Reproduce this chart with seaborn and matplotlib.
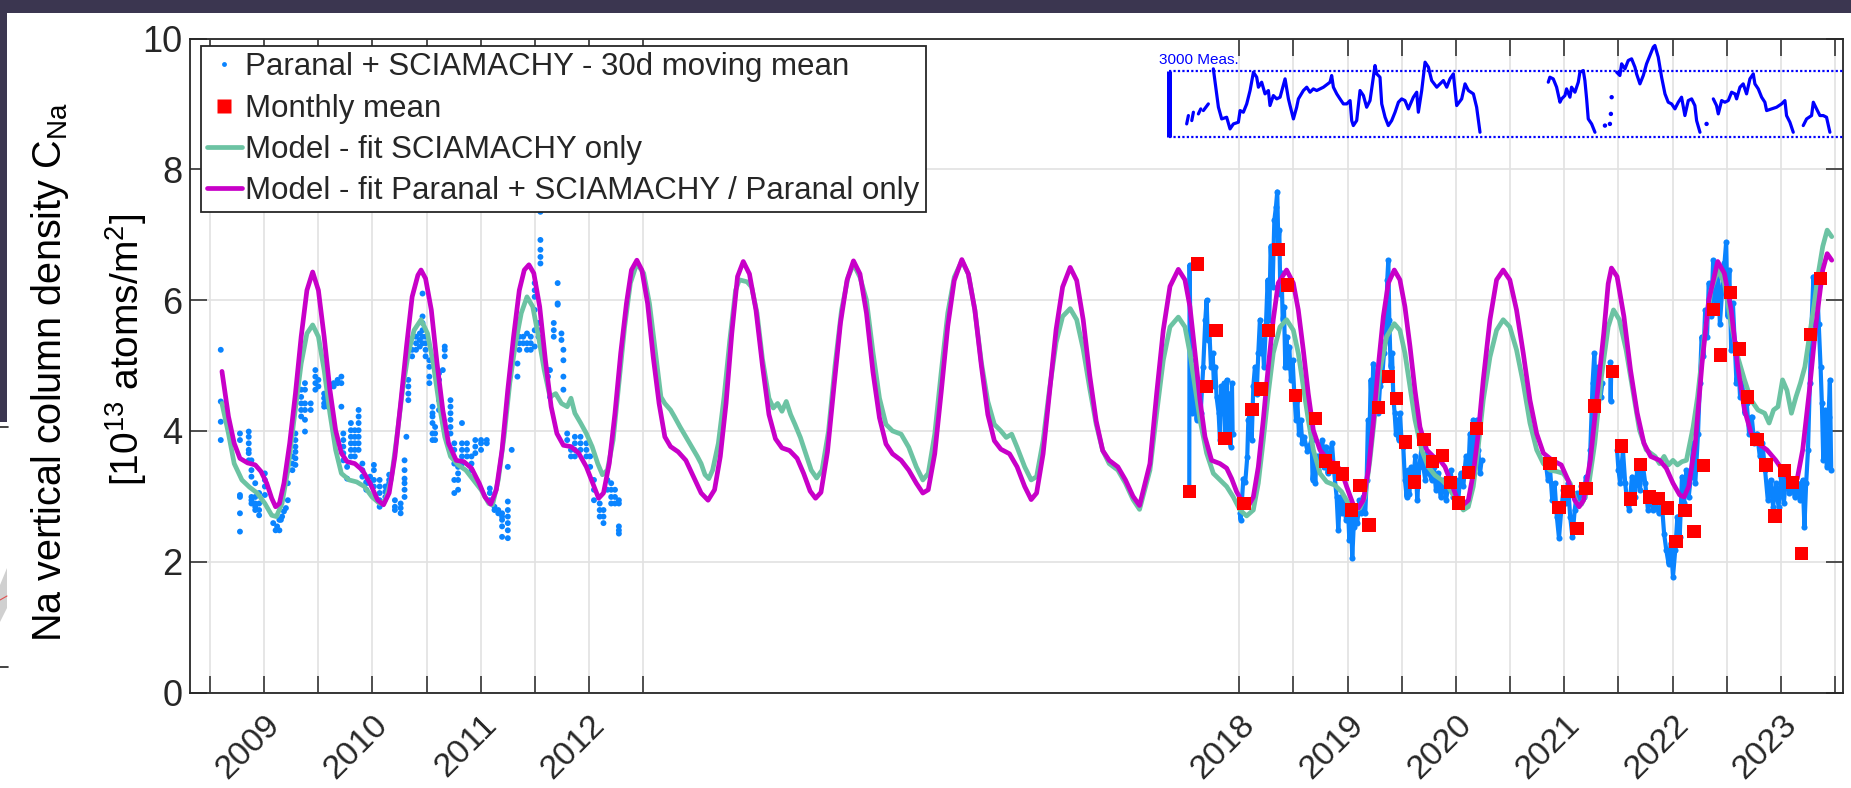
import numpy as np
import pandas as pd
import matplotlib
matplotlib.use("Agg")
import matplotlib.pyplot as plt
import seaborn as sns
from matplotlib.lines import Line2D
from matplotlib.patches import Rectangle, Polygon

nan = np.nan

# ---------------- data ----------------
# Model - fit Paranal + SCIAMACHY / Paranal only  (magenta)
model_paranal_years = [
    2008.612, 2008.672, 2008.725, 2008.778, 2008.849, 2008.919, 2008.972, 2009.025, 2009.071, 2009.107,
    2009.142, 2009.184, 2009.237, 2009.290, 2009.343, 2009.396, 2009.449, 2009.502, 2009.555, 2009.608,
    2009.661, 2009.714, 2009.767, 2009.838, 2009.908, 2009.979, 2010.050, 2010.103, 2010.155, 2010.208,
    2010.261, 2010.315, 2010.367, 2010.420, 2010.449, 2010.491, 2010.544, 2010.597, 2010.650, 2010.703,
    2010.774, 2010.844, 2010.915, 2010.986, 2011.039, 2011.092, 2011.144, 2011.197, 2011.250, 2011.303,
    2011.356, 2011.402, 2011.445, 2011.490, 2011.544, 2011.597, 2011.650, 2011.703, 2011.763, 2011.833,
    2011.904, 2011.975, 2012.045, 2012.088, 2012.133, 2012.186, 2012.239, 2012.292, 2012.345, 2012.391,
    2012.441, 2012.487, 2012.540, 2012.592, 2012.646, 2012.699, 2012.752, 2012.822, 2012.893, 2012.963,
    2013.034, 2013.098, 2013.158, 2013.211, 2013.264, 2013.317, 2013.370, 2013.423,
    2013.48, 2013.54, 2013.60, 2013.66, 2013.72, 2013.78, 2013.85, 2013.92, 2013.98, 2014.04, 2014.09,
    2014.14, 2014.20, 2014.26, 2014.32, 2014.38, 2014.44, 2014.50, 2014.56, 2014.62, 2014.68, 2014.74,
    2014.80, 2014.88, 2014.95, 2015.02, 2015.08, 2015.13, 2015.19, 2015.25, 2015.31, 2015.37, 2015.44,
    2015.50, 2015.56, 2015.62, 2015.68, 2015.74, 2015.80, 2015.88, 2015.95, 2016.02, 2016.08, 2016.13,
    2016.19, 2016.25, 2016.31, 2016.37, 2016.44, 2016.50, 2016.56, 2016.62, 2016.68, 2016.74, 2016.80,
    2016.88, 2016.95, 2017.02, 2017.08,
    2017.176, 2017.238, 2017.299, 2017.361, 2017.438, 2017.499, 2017.545, 2017.592, 2017.638, 2017.684,
    2017.745, 2017.822, 2017.884, 2017.930, 2017.976, 2018.037, 2018.084, 2018.130, 2018.176, 2018.222,
    2018.268, 2018.314, 2018.360, 2018.437, 2018.499, 2018.545, 2018.591, 2018.637, 2018.684, 2018.745,
    2018.807, 2018.883, 2018.945, 2018.991, 2019.053, 2019.099, 2019.145, 2019.191, 2019.237, 2019.283,
    2019.330, 2019.376, 2019.431, 2019.483, 2019.529, 2019.576, 2019.622, 2019.668, 2019.730, 2019.791,
    2019.853, 2019.899, 2019.945, 2020.006, 2020.068, 2020.114, 2020.160, 2020.206, 2020.252, 2020.314,
    2020.375, 2020.436, 2020.497, 2020.559, 2020.621, 2020.683, 2020.745, 2020.807, 2020.889, 2020.972,
    2021.034, 2021.096, 2021.137, 2021.178, 2021.240, 2021.302, 2021.364, 2021.405, 2021.435, 2021.487,
    2021.550, 2021.611, 2021.673, 2021.735, 2021.797, 2021.880, 2021.941, 2022.003, 2022.065, 2022.106,
    2022.148, 2022.209, 2022.271, 2022.333, 2022.416, 2022.477, 2022.540, 2022.601, 2022.663, 2022.725,
    2022.787, 2022.870, 2022.952, 2023.034, 2023.096, 2023.150, 2023.200, 2023.262, 2023.323, 2023.385,
    2023.426, 2023.468]
model_paranal_vals = [
    4.91, 4.22, 3.81, 3.58, 3.51, 3.48, 3.38, 3.20, 2.97, 2.84,
    2.89, 3.20, 3.81, 4.57, 5.44, 6.15, 6.43, 6.15, 5.44, 4.63,
    4.01, 3.66, 3.53, 3.50, 3.40, 3.20, 2.94, 2.87, 3.05, 3.61,
    4.42, 5.29, 6.05, 6.38, 6.46, 6.33, 5.85, 5.03, 4.32, 3.81,
    3.55, 3.53, 3.43, 3.20, 2.99, 2.88, 3.10, 3.71, 4.63, 5.44,
    6.15, 6.46, 6.54, 6.41, 5.90, 5.08, 4.37, 3.96, 3.78, 3.76,
    3.66, 3.45, 3.15, 2.97, 3.05, 3.50, 4.27, 5.19, 5.95, 6.46,
    6.61, 6.46, 5.95, 5.13, 4.42, 3.91, 3.76, 3.68, 3.55, 3.30,
    3.05, 2.94, 3.10, 3.61, 4.42, 5.49, 6.36, 6.59,
    6.40, 5.85, 5.00, 4.25, 3.88, 3.74, 3.70, 3.58, 3.35, 3.08, 2.97,
    3.06, 3.68, 4.68, 5.65, 6.30, 6.60, 6.40, 5.80, 4.90, 4.20, 3.80,
    3.65, 3.55, 3.40, 3.20, 3.05, 3.10, 3.65, 4.60, 5.60, 6.30, 6.62,
    6.40, 5.85, 5.00, 4.25, 3.85, 3.72, 3.65, 3.45, 3.15, 2.95, 3.05,
    3.65, 4.60, 5.55, 6.20, 6.50, 6.30, 5.70, 4.85, 4.15, 3.70, 3.55,
    3.45, 3.25, 3.00, 2.86,
    3.50, 4.57, 5.54, 6.21, 6.47, 6.31, 5.90, 5.19, 4.47, 3.91,
    3.55, 3.50, 3.43, 3.27, 3.07, 2.89, 2.85, 2.99, 3.45, 4.17,
    4.98, 5.70, 6.26, 6.46, 6.26, 5.85, 5.24, 4.57, 4.01, 3.71,
    3.58, 3.50, 3.38, 3.15, 2.87, 2.82, 2.94, 3.40, 4.12, 4.98,
    5.75, 6.26, 6.46, 6.31, 5.90, 5.29, 4.62, 4.06, 3.71, 3.61,
    3.55, 3.45, 3.25, 2.99, 2.87, 2.94, 3.35, 3.96, 4.78, 5.70,
    6.31, 6.46, 6.31, 5.85, 5.19, 4.47, 3.96, 3.66, 3.55, 3.48,
    3.25, 2.94, 2.84, 2.94, 3.55, 4.52, 5.49, 6.25, 6.49, 6.36,
    5.75, 4.93, 4.27, 3.81, 3.61, 3.55, 3.43, 3.20, 3.02, 2.99,
    3.15, 3.81, 5.03, 6.00, 6.59, 6.41, 5.85, 4.98, 4.32, 3.96,
    3.81, 3.71, 3.55, 3.35, 3.20, 3.27, 3.71, 4.62, 5.64, 6.46,
    6.71, 6.61]

# Model - fit SCIAMACHY only  (green)
model_scia_years = [
    2008.612, 2008.672, 2008.725, 2008.796, 2008.866, 2008.937, 2009.008, 2009.071, 2009.114, 2009.166,
    2009.220, 2009.273, 2009.343, 2009.396, 2009.449, 2009.502, 2009.555, 2009.608, 2009.661, 2009.714,
    2009.785, 2009.855, 2009.926, 2009.997, 2010.067, 2010.120, 2010.173, 2010.226, 2010.279, 2010.332,
    2010.385, 2010.449, 2010.509, 2010.562, 2010.615, 2010.668, 2010.721, 2010.791, 2010.862, 2010.932,
    2011.003, 2011.074, 2011.109, 2011.162, 2011.215, 2011.268, 2011.321, 2011.374, 2011.427, 2011.480,
    2011.533, 2011.586, 2011.639, 2011.692, 2011.745, 2011.798, 2011.833, 2011.869, 2011.922, 2011.975,
    2012.028, 2012.080, 2012.123, 2012.169, 2012.222, 2012.275, 2012.328, 2012.381, 2012.441, 2012.504,
    2012.557, 2012.610, 2012.663, 2012.699, 2012.752, 2012.787, 2012.840, 2012.893, 2012.946, 2012.999,
    2013.034, 2013.070, 2013.105, 2013.140, 2013.193, 2013.246, 2013.299, 2013.352, 2013.387, 2013.458,
    2013.50, 2013.55, 2013.60, 2013.66, 2013.70, 2013.74, 2013.78, 2013.82, 2013.86, 2013.90, 2013.95,
    2014.00, 2014.05, 2014.10, 2014.15, 2014.21, 2014.27, 2014.33, 2014.39, 2014.44, 2014.50, 2014.56,
    2014.62, 2014.68, 2014.74, 2014.80, 2014.88, 2014.95, 2015.02, 2015.08, 2015.13, 2015.19, 2015.25,
    2015.31, 2015.37, 2015.44, 2015.50, 2015.56, 2015.62, 2015.68, 2015.74, 2015.80, 2015.85, 2015.90,
    2015.95, 2016.02, 2016.08, 2016.13, 2016.19, 2016.25, 2016.31, 2016.37, 2016.44, 2016.50, 2016.56,
    2016.62, 2016.68, 2016.74, 2016.80, 2016.88, 2016.95, 2017.02, 2017.08,
    2017.176, 2017.238, 2017.299, 2017.361, 2017.438, 2017.499, 2017.545, 2017.592, 2017.638, 2017.699,
    2017.761, 2017.822, 2017.884, 2017.945, 2018.007, 2018.068, 2018.130, 2018.176, 2018.222, 2018.268,
    2018.314, 2018.376, 2018.437, 2018.499, 2018.545, 2018.591, 2018.637, 2018.684, 2018.745, 2018.807,
    2018.883, 2018.945, 2019.007, 2019.068, 2019.114, 2019.160, 2019.206, 2019.253, 2019.299, 2019.360,
    2019.431, 2019.483, 2019.529, 2019.576, 2019.622, 2019.683, 2019.745, 2019.807, 2019.868, 2019.929,
    2019.991, 2020.068, 2020.114, 2020.160, 2020.206, 2020.252, 2020.314, 2020.375, 2020.436, 2020.497,
    2020.559, 2020.621, 2020.683, 2020.745, 2020.807, 2020.869, 2020.931, 2020.990, 2021.054, 2021.116,
    2021.160, 2021.219, 2021.281, 2021.343, 2021.405, 2021.454, 2021.508, 2021.570, 2021.632, 2021.694,
    2021.756, 2021.838, 2021.879, 2021.921, 2021.962, 2022.003, 2022.044, 2022.086, 2022.127, 2022.189,
    2022.230, 2022.292, 2022.354, 2022.416, 2022.477, 2022.540, 2022.601, 2022.663, 2022.725, 2022.787,
    2022.849, 2022.890, 2022.931, 2022.972, 2023.014, 2023.055, 2023.096, 2023.138, 2023.179, 2023.220,
    2023.262, 2023.303, 2023.344, 2023.385, 2023.426, 2023.468]
model_scia_vals = [
    4.42, 3.96, 3.50, 3.25, 3.14, 3.05, 2.89, 2.71, 2.69, 2.89,
    3.40, 4.12, 5.03, 5.49, 5.62, 5.44, 4.93, 4.27, 3.71, 3.35,
    3.25, 3.22, 3.15, 2.99, 2.89, 2.94, 3.25, 3.91, 4.63, 5.19,
    5.54, 5.70, 5.49, 5.03, 4.42, 3.91, 3.61, 3.48, 3.40, 3.25,
    3.10, 2.89, 2.87, 3.25, 3.91, 4.73, 5.34, 5.80, 6.05, 5.90,
    5.44, 4.93, 4.52, 4.57, 4.42, 4.37, 4.50, 4.27, 4.12, 3.96,
    3.76, 3.50, 3.33, 3.40, 3.86, 4.73, 5.59, 6.26, 6.56, 6.41,
    5.95, 5.24, 4.52, 4.42, 4.32, 4.22, 4.06, 3.91, 3.76, 3.61,
    3.50, 3.33, 3.27, 3.40, 3.81, 4.52, 5.39, 6.15, 6.31, 6.28,
    6.20, 5.80, 5.10, 4.50, 4.35, 4.42, 4.30, 4.45, 4.25, 4.10, 3.90,
    3.65, 3.40, 3.28, 3.40, 4.00, 5.00, 5.85, 6.35, 6.55, 6.35, 6.00,
    5.20, 4.50, 4.10, 4.00, 3.95, 3.75, 3.45, 3.25, 3.35, 3.95, 4.90,
    5.80, 6.35, 6.60, 6.40, 5.85, 5.05, 4.45, 4.10, 4.00, 3.90, 3.95,
    3.75, 3.45, 3.25, 3.30, 3.85, 4.65, 5.35, 5.75, 5.87, 5.70, 5.25,
    4.65, 4.10, 3.70, 3.50, 3.40, 3.20, 2.95, 2.80,
    3.40, 4.27, 5.08, 5.59, 5.74, 5.59, 5.19, 4.68, 4.17, 3.66,
    3.35, 3.25, 3.15, 2.99, 2.79, 2.70, 2.79, 3.20, 3.86, 4.57,
    5.19, 5.59, 5.70, 5.54, 5.19, 4.68, 4.17, 3.71, 3.35, 3.22,
    3.17, 3.07, 2.89, 2.79, 2.82, 2.99, 3.55, 4.27, 4.93, 5.44,
    5.64, 5.54, 5.19, 4.68, 4.17, 3.71, 3.45, 3.32, 3.25, 3.15,
    2.97, 2.79, 2.84, 3.15, 3.76, 4.47, 5.13, 5.54, 5.70, 5.59,
    5.24, 4.73, 4.12, 3.71, 3.50, 3.40, 3.38, 3.35, 3.20, 2.89,
    2.88, 3.10, 3.81, 4.83, 5.59, 5.85, 5.70, 5.24, 4.62, 4.01,
    3.71, 3.61, 3.50, 3.61, 3.48, 3.55, 3.48, 3.53, 3.55, 4.06,
    4.52, 5.44, 6.15, 6.46, 6.26, 5.64, 5.13, 4.78, 4.47, 4.32,
    4.27, 4.12, 4.32, 4.37, 4.78, 4.62, 4.27, 4.52, 4.73, 4.98,
    5.44, 5.90, 6.41, 6.82, 7.07, 6.97]

# Paranal + SCIAMACHY 30d moving mean, 2008-2012 (scattered points, one year -> several values)
dots_2008_2012 = [
    (2008.601, [5.24, 4.45, 4.14, 3.86]), (2008.778, [3.96, 3.86, 3.02, 2.99, 2.74, 2.46]),
    (2008.859, [3.99, 3.91, 3.81, 3.71, 3.66, 3.55]), (2008.884, [3.55, 3.40, 3.30, 2.99, 2.94, 2.89]),
    (2008.919, [3.20, 2.99, 2.89, 2.84, 2.79]), (2008.955, [3.05, 2.89, 2.79, 2.71]),
    (2009.008, [3.35, 3.25, 3.15, 3.02]), (2009.085, [2.59]), (2009.107, [2.48]), (2009.121, [2.54]),
    (2009.142, [2.48, 2.64]), (2009.156, [2.64]), (2009.167, [2.69]), (2009.184, [2.77]), (2009.202, [2.82]),
    (2009.220, [3.40, 3.20, 2.94]), (2009.262, [3.61, 3.50, 3.40]),
    (2009.290, [3.96, 3.86, 3.76, 3.68, 3.58, 3.48]), (2009.343, [4.63, 4.52, 4.42, 4.32, 4.22]),
    (2009.378, [4.73, 4.63, 4.42, 4.32, 4.17, 3.99]), (2009.431, [4.42, 4.32]),
    (2009.474, [4.93, 4.83, 4.73, 4.63]), (2009.502, [4.78, 4.68]), (2009.555, [4.57, 4.50, 4.42, 4.37]),
    (2009.590, [4.63, 4.47, 4.37]), (2009.643, [4.73, 4.68]), (2009.679, [4.78, 4.73]),
    (2009.714, [4.83, 4.73, 4.37]), (2009.732, [3.96, 3.86, 3.76, 3.66, 3.55]), (2009.767, [3.45, 3.27]),
    (2009.802, [4.12, 4.01, 3.91, 3.81, 3.71, 3.61]), (2009.838, [4.01, 3.91, 3.81, 3.71, 3.61]),
    (2009.873, [4.32, 4.22, 4.12, 4.01, 3.91, 3.81, 3.71]), (2009.908, [3.50, 3.40, 3.30]),
    (2009.944, [3.22, 3.20, 3.10]), (2009.979, [3.30, 3.20]), (2010.014, [3.48, 3.40, 3.25, 3.15, 2.99]),
    (2010.067, [3.25, 3.15, 3.05, 2.94, 2.84]), (2010.120, [3.15, 3.07, 2.99]), (2010.155, [3.33, 3.25, 3.20]),
    (2010.208, [2.94, 2.84, 2.79]), (2010.261, [2.89, 2.82, 2.74]),
    (2010.297, [3.55, 3.40, 3.27, 3.20, 3.10, 2.99]), (2010.314, [3.91]),
    (2010.332, [4.78, 4.68, 4.57, 4.47]), (2010.367, [5.24, 5.14]), (2010.403, [5.44, 5.34, 5.24]),
    (2010.438, [5.49, 5.39, 5.29]), (2010.463, [6.10, 5.75, 5.65, 5.54, 5.44, 5.34]),
    (2010.491, [5.44, 5.34, 5.24, 5.14]), (2010.526, [5.08, 4.98, 4.83, 4.73]),
    (2010.555, [4.37, 4.27, 4.22, 4.12, 3.96, 3.86]), (2010.579, [4.06, 3.96, 3.86]),
    (2010.615, [4.88, 4.78, 4.47, 4.32]), (2010.650, [4.93]), (2010.668, [5.29, 5.24, 5.14]),
    (2010.721, [4.47, 4.37, 4.27, 4.17, 4.06, 3.96]), (2010.756, [3.81, 3.71, 3.50, 3.25, 3.05]),
    (2010.791, [3.45, 3.35, 3.25, 3.10]), (2010.827, [4.12, 3.81, 3.71, 3.61, 3.50]),
    (2010.873, [3.81, 3.71, 3.61]), (2010.915, [3.61, 3.50, 3.40]), (2010.950, [3.86, 3.76, 3.66]),
    (2011.003, [3.86, 3.81, 3.71]), (2011.056, [3.81, 3.86]), (2011.084, [3.12, 3.05, 2.94]),
    (2011.127, [2.84, 2.79]), (2011.162, [2.79, 2.74]), (2011.197, [2.74, 2.69, 2.64, 2.54, 2.38]),
    (2011.250, [3.45, 2.92, 2.79, 2.69, 2.59, 2.48, 2.36]), (2011.286, [3.71]), (2011.339, [5.03, 4.83]),
    (2011.356, [5.44, 5.34, 5.24]), (2011.392, [5.44, 5.34]), (2011.427, [5.49, 5.34, 5.24]),
    (2011.462, [5.44, 5.34, 5.24]), (2011.498, [6.26, 6.15, 6.05, 5.85, 5.54, 5.29]),
    (2011.533, [5.65, 5.54, 5.44]), (2011.551, [7.35, 6.92, 6.77, 6.66, 6.56]),
    (2011.621, [4.93, 4.83]), (2011.639, [4.93, 4.52]), (2011.674, [5.65, 5.54, 5.44]),
    (2011.710, [6.26, 5.95, 5.93]), (2011.745, [5.49, 5.39]), (2011.763, [5.24, 5.08, 4.83, 4.63]),
    (2011.798, [3.96, 3.86]), (2011.833, [3.71, 3.61]), (2011.869, [3.91, 3.81, 3.71, 3.61]),
    (2011.921, [3.91, 3.81, 3.71]), (2011.975, [3.81, 3.71, 3.61]), (2012.010, [3.61, 3.45]),
    (2012.045, [3.25, 3.10, 2.94]), (2012.098, [2.89, 2.79, 2.69]), (2012.133, [2.79, 2.69, 2.59]),
    (2012.169, [3.25, 3.10]), (2012.204, [3.20, 3.10, 2.99, 2.89]), (2012.239, [3.10, 2.99, 2.89]),
    (2012.275, [2.94, 2.89, 2.54, 2.48, 2.43])]

# Paranal + SCIAMACHY 30d moving mean, 2017-2023 (dense; nan = data gap)
blue_2017_2023_years = [
    2017.539, 2017.542, 2017.552, 2017.564, 2017.576, 2017.592, 2017.607, 2017.622, 2017.644, 2017.668,
    2017.687, 2017.699, 2017.711, 2017.724, 2017.739, 2017.755, 2017.767, 2017.779, 2017.791, 2017.810,
    2017.822, 2017.835, 2017.847, 2017.859, 2017.871, 2017.884, 2017.896, 2017.908, 2017.921, 2017.933,
    2017.939, nan,
    2018.007, 2018.013, 2018.025, 2018.038, 2018.056, 2018.074, 2018.084, 2018.099, 2018.115, 2018.130,
    2018.145, 2018.161, 2018.176, 2018.191, 2018.204, 2018.216, 2018.228, 2018.247, 2018.262, 2018.277,
    2018.290, 2018.308, 2018.324, 2018.339, 2018.351, 2018.361, 2018.370, 2018.379, 2018.391, 2018.401,
    2018.413, 2018.425, 2018.437, 2018.450, 2018.462, 2018.477, 2018.493, 2018.508, 2018.524, 2018.536,
    2018.551, 2018.567, 2018.582, 2018.597, 2018.630, 2018.668, 2018.677, 2018.690, 2018.702, 2018.714,
    2018.730, 2018.745, 2018.767, 2018.782, 2018.800, 2018.816, 2018.837, 2018.856, 2018.874, 2018.899,
    2018.914, 2018.930, 2018.945, 2018.966, 2018.985, 2019.003, 2019.016, 2019.031, 2019.043, 2019.056,
    2019.071, 2019.090, 2019.108, 2019.126, 2019.145, 2019.163, 2019.176, 2019.188, 2019.200, 2019.213,
    2019.225, 2019.237, 2019.253, 2019.268, 2019.283, 2019.299, 2019.317, 2019.336, 2019.354, 2019.366,
    2019.376, 2019.385, 2019.397, 2019.410, 2019.422, 2019.434, 2019.446, 2019.459, 2019.471, 2019.483,
    2019.496, 2019.514, 2019.529, 2019.545, 2019.557, 2019.569, 2019.588, 2019.606, 2019.625, 2019.643,
    2019.662, 2019.683, 2019.699, 2019.717, 2019.736, 2019.754, 2019.775, 2019.797, 2019.815, 2019.837,
    2019.858, 2019.883, 2019.908, 2019.929, 2019.951, 2019.975, 2020.000, 2020.021, 2020.043, 2020.068,
    2020.092, 2020.114, 2020.129, 2020.145, 2020.160, 2020.175, 2020.191, 2020.206, 2020.222, 2020.237,
    nan,
    2020.827, 2020.848, 2020.869, 2020.889, 2020.910, 2020.931, 2020.951, 2020.972, 2020.992, 2021.013,
    2021.034, 2021.054, 2021.075, 2021.096, 2021.116, 2021.137, 2021.158, 2021.178, 2021.199, 2021.219,
    2021.240, 2021.261, 2021.277, 2021.294, 2021.314, 2021.335, 2021.351, nan,
    2021.424, 2021.428, 2021.432, nan,
    2021.487, 2021.500, 2021.516, 2021.541, 2021.562, 2021.582, 2021.599, 2021.624, 2021.648, 2021.673,
    2021.698, 2021.723, 2021.747, 2021.772, 2021.797, 2021.822, 2021.846, 2021.871, 2021.900, 2021.921,
    2021.941, 2021.962, 2021.983, 2022.003, 2022.024, 2022.044, 2022.065, 2022.086, 2022.106, 2022.127,
    2022.148, 2022.168, 2022.189, 2022.209, 2022.234, 2022.251, 2022.267, 2022.284, 2022.300, 2022.317,
    2022.333, 2022.354, 2022.374, 2022.395, 2022.416, 2022.436, 2022.457, 2022.478, 2022.494, 2022.507,
    2022.523, 2022.540, 2022.556, 2022.573, 2022.589, 2022.606, 2022.622, 2022.643, 2022.663, 2022.684,
    2022.705, 2022.729, 2022.754, 2022.779, 2022.804, 2022.828, 2022.853, 2022.878, 2022.903, 2022.927,
    2022.952, 2022.977, 2023.002, 2023.026, 2023.051, 2023.076, 2023.101, 2023.125, 2023.150, 2023.175,
    2023.200, 2023.216, 2023.232, 2023.249, 2023.266, 2023.282, 2023.299, 2023.315, 2023.332, 2023.348,
    2023.365, 2023.377, 2023.390, 2023.406, 2023.423, 2023.439, 2023.451, 2023.463]
blue_2017_2023_vals = [
    3.10, 6.54, 5.08, 4.27, 4.98, 4.68, 4.17, 4.52, 4.27, 4.98,
    5.70, 6.00, 5.39, 5.54, 4.98, 5.19, 4.68, 4.98, 4.52, 4.27,
    3.86, 4.68, 4.27, 4.73, 3.96, 4.78, 3.86, 4.57, 3.76, 4.73,
    3.96, nan,
    2.74, 2.64, 2.94, 3.27, 3.22, 3.60, 4.17, 4.27, 3.86, 4.68,
    4.98, 4.57, 5.19, 5.70, 5.19, 5.39, 4.98, 5.64, 6.31, 5.70,
    6.82, 6.20, 7.22, 7.43, 7.66, 6.82, 7.07, 6.10, 6.41, 5.70,
    5.90, 4.98, 5.44, 4.98, 5.29, 4.78, 5.08, 4.57, 4.17, 4.47,
    3.96, 4.17, 3.81, 3.91, 3.70, 3.86, 3.25, 3.50, 3.20, 3.61,
    3.40, 3.55, 3.86, 3.45, 3.76, 3.35, 3.66, 3.81, 3.40, 2.99,
    2.48, 2.99, 2.74, 2.94, 2.64, 2.84, 2.33, 2.74, 2.05, 2.53,
    2.74, 2.59, 2.94, 2.74, 2.99, 2.74, 3.25, 4.17, 3.76, 4.78,
    4.27, 5.03, 4.57, 4.78, 4.27, 4.68, 4.78, 5.19, 5.39, 6.31,
    6.61, 5.70, 4.98, 5.19, 4.52, 4.27, 3.96, 4.17, 3.86, 4.27,
    3.91, 3.76, 3.25, 2.99, 3.40, 3.04, 3.45, 3.25, 3.61, 2.94,
    3.45, 3.76, 3.45, 3.25, 3.66, 3.35, 3.25, 3.45, 3.10, 3.35,
    2.99, 3.25, 2.94, 3.15, 3.40, 2.99, 3.25, 2.94, 3.35, 3.15,
    3.61, 3.35, 3.96, 3.45, 4.17, 3.76, 4.17, 3.71, 3.35, 3.55,
    nan,
    3.55, 3.25, 3.40, 2.94, 3.20, 2.69, 2.36, 2.79, 3.10, 2.89,
    3.20, 2.69, 2.38, 2.79, 3.05, 2.89, 3.15, 2.99, 3.30, 3.15,
    3.71, 4.73, 5.19, 4.42, 4.98, 4.52, 4.73, nan,
    5.05, 4.45, 4.85, nan,
    3.71, 3.40, 3.20, 3.71, 3.20, 2.89, 2.79, 3.30, 2.99, 3.40,
    3.10, 3.50, 3.20, 2.79, 2.99, 2.79, 2.89, 2.74, 2.89, 2.43,
    2.18, 1.97, 2.28, 1.77, 2.18, 2.69, 2.38, 3.30, 2.89, 3.40,
    2.99, 3.30, 3.81, 3.20, 3.96, 4.73, 5.44, 5.14, 5.85, 5.44,
    6.26, 5.75, 6.61, 6.00, 6.46, 5.64, 6.15, 6.56, 6.89, 5.75,
    6.46, 5.24, 5.95, 5.34, 4.73, 5.03, 4.52, 4.73, 4.27, 4.42,
    3.96, 4.22, 3.81, 3.96, 3.61, 3.81, 3.40, 2.94, 3.25, 2.84,
    3.20, 2.84, 3.30, 2.89, 3.40, 3.05, 3.25, 2.99, 3.20, 2.94,
    3.25, 2.53, 3.20, 3.71, 4.73, 5.64, 6.36, 5.95, 6.26, 5.64,
    4.98, 4.42, 3.55, 4.32, 3.45, 4.22, 4.78, 3.40]

# Monthly mean (red squares)
monthly_years = [
    2017.540, 2017.618, 2017.700, 2017.787, 2017.870, 2018.043, 2018.117, 2018.200, 2018.270, 2018.365,
    2018.443, 2018.521, 2018.703, 2018.794, 2018.868, 2018.950, 2019.033, 2019.115, 2019.198, 2019.288,
    2019.375, 2019.450, 2019.532, 2019.619, 2019.705, 2019.784, 2019.874, 2019.949, 2020.023, 2020.114,
    2020.188, 2020.869, 2020.951, 2021.034, 2021.116, 2021.199, 2021.281, 2021.446, 2021.529, 2021.612,
    2021.702, 2021.785, 2021.867, 2021.950, 2022.032, 2022.115, 2022.197, 2022.284, 2022.374, 2022.444,
    2022.531, 2022.614, 2022.692, 2022.779, 2022.861, 2022.944, 2023.034, 2023.109, 2023.191, 2023.274,
    2023.365]
monthly_vals = [
    3.07, 6.55, 4.68, 5.54, 3.88, 2.89, 4.33, 4.64, 5.53, 6.77,
    6.23, 4.54, 4.19, 3.54, 3.44, 3.34, 2.79, 3.17, 2.56, 4.36,
    4.83, 4.50, 3.83, 3.22, 3.87, 3.53, 3.62, 3.21, 2.90, 3.36,
    4.04, 3.50, 2.83, 3.07, 2.51, 3.12, 4.38, 4.91, 3.77, 2.96,
    3.49, 2.99, 2.97, 2.82, 2.31, 2.78, 2.46, 3.47, 5.86, 5.16,
    6.12, 5.25, 4.52, 3.87, 3.48, 2.70, 3.39, 3.21, 2.13, 5.47,
    6.33]

# Inset: number of measurements (nan = gap); scale bar = 3000 measurements
inset_years = [
    2017.515, 2017.531, nan, 2017.562, 2017.577, nan, 2017.623, 2017.645, nan, 2017.669, 2017.715, nan,
    2017.761, 2017.808, 2017.838, 2017.884, 2017.915, 2017.946, 2017.992, 2018.008, 2018.038, 2018.069,
    2018.100, 2018.131, 2018.161, 2018.177, 2018.207, 2018.238, 2018.269, 2018.284, 2018.315, 2018.346,
    2018.377, 2018.423, 2018.454, 2018.469, 2018.500, 2018.530, 2018.546, 2018.592, 2018.623, 2018.653,
    2018.684, 2018.715, 2018.777, 2018.838, 2018.853, 2018.869, 2018.900, 2018.930, 2018.961, 2018.992,
    2019.023, 2019.038, 2019.053, 2019.084, 2019.115, 2019.146, 2019.176, 2019.207, 2019.253, 2019.269,
    2019.299, 2019.315, 2019.346, 2019.376, 2019.407, 2019.438, 2019.469, 2019.499, 2019.530, 2019.561,
    2019.607, 2019.638, 2019.653, 2019.684, 2019.715, 2019.746, 2019.776, 2019.823, 2019.853, 2019.884,
    2019.915, 2019.945, 2019.976, 2020.007, 2020.053, 2020.084, 2020.115, 2020.161, 2020.191, 2020.222,
    nan,
    2020.852, 2020.867, 2020.898, 2020.929, 2020.960, 2020.975, 2021.006, 2021.021, 2021.052, 2021.067,
    2021.098, 2021.129, 2021.144, 2021.175, 2021.190, 2021.206, 2021.221, 2021.252, 2021.283, nan,
    2021.483, 2021.513, 2021.529, 2021.560, 2021.590, 2021.621, 2021.652, 2021.667, 2021.698, 2021.729,
    2021.759, 2021.790, 2021.821, 2021.836, 2021.867, 2021.898, 2021.929, 2021.959, 2021.990, 2022.021,
    2022.052, 2022.082, 2022.113, 2022.144, 2022.175, 2022.205, 2022.221, 2022.252, nan,
    2022.375, 2022.405, 2022.421, 2022.452, 2022.482, 2022.513, 2022.544, 2022.575, 2022.590, 2022.621,
    2022.651, 2022.682, 2022.713, 2022.744, 2022.759, 2022.790, 2022.821, 2022.851, 2022.867, 2022.913,
    2022.959, 2023.005, 2023.036, 2023.051, 2023.082, 2023.113, nan,
    2023.205, 2023.236, 2023.282, 2023.298, 2023.328, 2023.359, 2023.390, 2023.420, 2023.451]
inset_meas = [
    582, 965, nan, 735, 1118, nan, 1041, 1271, nan, 1194, 1500, nan,
    3108, 1347, 811, 888, 352, 582, 658, 1194, 1118, 1500,
    2113, 2955, 2725, 2266, 2496, 1960, 2113, 1424, 1883, 1730,
    1807, 2649, 1730, 1424, 811, 1347, 1730, 2113, 2266, 2036,
    2189, 2113, 2266, 2496, 2802, 2266, 1960, 1730, 1500, 1500,
    1653, 735, 505, 735, 2113, 1883, 1347, 1653, 3261, 2878,
    2725, 1500, 888, 505, 735, 1118, 1577, 1730, 1653, 1271,
    1807, 2036, 1118, 2113, 3414, 3184, 2572, 2266, 2419, 2572,
    2266, 2649, 2878, 1424, 1730, 2419, 2113, 1960, 1347, 199,
    nan,
    2496, 2725, 2649, 2266, 1577, 1730, 1883, 2189, 1807, 2266,
    2036, 2496, 2955, 3031, 2572, 1730, 811, 582, 199, nan,
    2955, 2802, 3338, 3108, 3491, 3567, 3184, 2878, 2419, 2802,
    3338, 3720, 4103, 4180, 3644, 2725, 1960, 1577, 1500, 1271,
    1577, 1807, 965, 1653, 1730, 1424, 735, 199, nan,
    1730, 1424, 1041, 1653, 1577, 1653, 2036, 1960, 1730, 2266,
    2419, 1960, 2649, 2878, 2419, 2189, 1807, 1577, 1194, 1271,
    1347, 1500, 1653, 965, 658, 199, nan,
    505, 811, 965, 1577, 1271, 965, 965, 888, 199]
inset_dot_years = [2021.375, 2021.421, 2021.430, 2021.437, 2022.313]
inset_dot_meas = [505, 582, 1041, 1807, 582]
inset_scale_meas = 3000
inset_base = 8.5

x_ticks = [2008.5, 2009, 2009.5, 2010, 2010.5, 2011, 2011.5, 2012, 2012.5,
           2018, 2018.5, 2019, 2019.5, 2020, 2020.5, 2021, 2021.5, 2022, 2022.5, 2023, 2023.5]
x_labelled_years = [2009, 2010, 2011, 2012, 2018, 2019, 2020, 2021, 2022, 2023]
y_ticks = [0, 2, 4, 6, 8, 10]

# ---------------- styling ----------------
C_BLUE = '#0a84ff'
C_RED = '#ff0000'
C_GREEN = '#6cc3a3'
C_MAG = '#c800c8'
C_INSET = '#0000ff'
C_AX = '#262626'

sns.set_theme(style="white")
plt.rcParams['font.family'] = ['Liberation Sans', 'DejaVu Sans']
plt.rcParams['mathtext.default'] = 'regular'

fig = plt.figure(figsize=(18.51, 7.88), dpi=100)
W, H = 1851.0, 788.0
ax = fig.add_axes([190 / W, 1 - 692.5 / H, (1843 - 190) / W, (692.5 - 38.5) / H])
ax.set_facecolor('white')


def to_segments(xs, ys):
    rows, seg = [], 0
    for x, y in zip(xs, ys):
        if np.isnan(x):
            seg += 1
            continue
        rows.append((x, y, seg))
    return pd.DataFrame(rows, columns=['x', 'y', 'seg'])


# blue scattered dots (2008-2012)
dot_years = [yr for yr, vs in dots_2008_2012 for _ in vs]
dot_vals = [v for _, vs in dots_2008_2012 for v in vs]
sns.scatterplot(x=dot_years, y=dot_vals, s=18, color=C_BLUE, edgecolor='none', ax=ax, zorder=2, legend=False)

# blue dense series (2017-2023)
df_blue = to_segments(blue_2017_2023_years, blue_2017_2023_vals)
sns.lineplot(data=df_blue, x='x', y='y', units='seg', estimator=None, sort=False, color=C_BLUE,
             lw=3.0, marker='o', markersize=4.4, markeredgewidth=0, ax=ax, zorder=2, legend=False)

# models
sns.lineplot(x=model_scia_years, y=model_scia_vals, estimator=None, sort=False, color=C_GREEN,
             lw=3.4, ax=ax, zorder=3, legend=False)
sns.lineplot(x=model_paranal_years, y=model_paranal_vals, estimator=None, sort=False, color=C_MAG,
             lw=3.4, ax=ax, zorder=4, legend=False)

# monthly means
sns.scatterplot(x=monthly_years, y=monthly_vals, marker='s', s=92, color=C_RED, edgecolor='none',
                ax=ax, zorder=5, legend=False)

# inset: measurement counts
bar_x = 2017.35
x_right = 2023.572
inset_y = [inset_base + m / inset_scale_meas if not np.isnan(m) else nan for m in inset_meas]
df_inset = to_segments(inset_years, inset_y)
sns.lineplot(data=df_inset, x='x', y='y', units='seg', estimator=None, sort=False, color=C_INSET,
             lw=2.3, ax=ax, zorder=6, legend=False)
sns.scatterplot(x=inset_dot_years, y=[inset_base + m / inset_scale_meas for m in inset_dot_meas],
                s=10, color=C_INSET, edgecolor='none', ax=ax, zorder=6, legend=False)
for lev in (inset_base, inset_base + 1):
    ax.plot([bar_x, x_right], [lev, lev], color=C_INSET, lw=1.6, ls=(0, (1, 1)), zorder=6)
ax.plot([bar_x, bar_x], [inset_base, inset_base + 1], color=C_INSET, lw=3.6, zorder=6,
        solid_capstyle='butt')
ax.text(2017.255, 9.61, f'{inset_scale_meas} Meas.', color=C_INSET, fontsize=11,
        ha='left', va='baseline', zorder=6)

# axes
ax.set_xlim(2008.317, x_right)
ax.set_ylim(0, 10)
ax.set_xticks(x_ticks)
ax.set_xticklabels([str(int(t)) if t in x_labelled_years else '' for t in x_ticks])
ax.set_yticks(y_ticks)
ax.set_yticklabels([str(t) for t in y_ticks])
ax.set_xlabel('')
ax.set_ylabel('')
ax.grid(True, color='#e2e2e2', lw=1.2, zorder=0)
ax.set_axisbelow(True)
for s in ax.spines.values():
    s.set_color(C_AX)
    s.set_linewidth(1.3)
    s.set_visible(True)
ax.tick_params(axis='both', which='major', direction='in', length=12, width=1.1, color=C_AX,
               top=True, right=True, bottom=True, left=True)
ax.tick_params(axis='x', labelsize=24.5, pad=12, labelcolor=C_AX)
ax.tick_params(axis='y', labelsize=26, pad=5.5, labelcolor=C_AX)
for lbl in ax.get_xticklabels():
    lbl.set_rotation(45)
    lbl.set_ha('right')
    lbl.set_va('top')
    lbl.set_rotation_mode('anchor')

# legend
handles = [
    Line2D([], [], ls='none', marker='o', ms=3.5, color=C_BLUE, mec='none',
           label='Paranal + SCIAMACHY - 30d moving mean'),
    Line2D([], [], ls='none', marker='s', ms=9.5, color=C_RED, mec='none', label='Monthly mean'),
    Line2D([], [], color=C_GREEN, lw=3.4, label='Model - fit SCIAMACHY only'),
    Line2D([], [], color=C_MAG, lw=3.4, label='Model - fit Paranal + SCIAMACHY / Paranal only'),
]
leg = ax.legend(handles=handles, loc='upper left', bbox_to_anchor=(201 / W, 1 - 46 / H),
                bbox_transform=fig.transFigure, fontsize=22.5, frameon=True, fancybox=False,
                edgecolor=C_AX, framealpha=1, borderpad=0.2, labelspacing=0.36,
                handlelength=1.1, handletextpad=0.12, borderaxespad=0)
leg.get_frame().set_linewidth(1.3)
leg.set_zorder(10)

# y label (two lines)
fig.text(50 / W, 1 - 372 / H, 'Na vertical column density C$_{Na}$', rotation=90,
         ha='center', va='center', fontsize=28.5, color='black')
fig.text(126 / W, 1 - 350 / H, '[10$^{13}$ atoms/m$^{2}$]', rotation=90,
         ha='center', va='center', fontsize=28, color='black')

# screenshot frame remnants
dark = '#3b3650'
fig.patches.append(Rectangle((0, 1 - 13 / H), 1, 13 / H, transform=fig.transFigure,
                             facecolor=dark, edgecolor='none', zorder=0))
fig.patches.append(Rectangle((0, 1 - 422 / H), 7 / W, (422 - 13) / H, transform=fig.transFigure,
                             facecolor=dark, edgecolor='none', zorder=0))
for yy in (427, 667):
    fig.lines.append(Line2D([0, 8 / W], [1 - yy / H, 1 - yy / H], transform=fig.transFigure,
                            color='#222222', lw=1.2))
fig.patches.append(Polygon([(0, 1 - 585 / H), (7 / W, 1 - 568 / H), (7 / W, 1 - 608 / H),
                            (0, 1 - 622 / H)], closed=True, transform=fig.transFigure,
                           facecolor='#d0d0d0', edgecolor='none'))
fig.lines.append(Line2D([0, 7 / W], [1 - 600 / H, 1 - 596 / H], transform=fig.transFigure,
                        color='#e05050', lw=0.8))

fig.savefig('out.png', dpi=100, facecolor='white')
